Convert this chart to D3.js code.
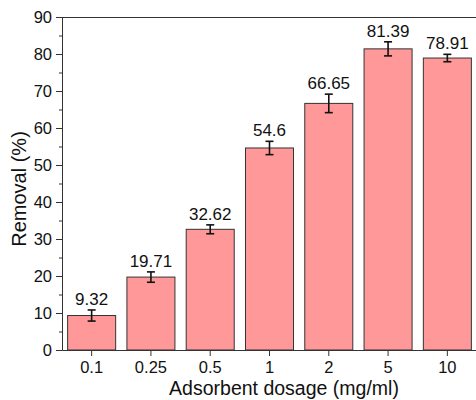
<!DOCTYPE html>
<html><head><meta charset="utf-8">
<script src="https://cdn.jsdelivr.net/npm/d3@7/dist/d3.min.js"></script>
<style>body{margin:0;background:#fff;}svg{display:block;font-family:"Liberation Sans",Arial,sans-serif;}</style>
</head><body>
<script>
const categories = ["0.1","0.25","0.5","1","2","5","10"];
const removal = [9.32, 19.71, 32.62, 54.6, 66.65, 81.39, 78.91];
const errors = [1.5, 1.4, 1.2, 1.8, 2.5, 1.9, 1.0];
const valueLabels = ["9.32","19.71","32.62","54.6","66.65","81.39","78.91"];
const yTicks = [0,10,20,30,40,50,60,70,80,90];
const yMinorTicks = [5,15,25,35,45,55,65,75,85];

const W = 476, H = 400;
const mLeft = 62, mRight = 477, mTop = 17, mBottom = 350;
const svg = d3.select("body").append("svg").attr("width", W).attr("height", H);

const x = d3.scaleBand().domain(categories).range([mLeft, mRight]).paddingInner(0.19).paddingOuter(0.095);
const y = d3.scaleLinear().domain([0, 90]).range([mBottom, mTop]);

// bars
svg.selectAll("rect.bar").data(removal).join("rect")
  .attr("class","bar")
  .attr("x", (d,i) => x(categories[i]))
  .attr("y", d => y(d))
  .attr("width", x.bandwidth())
  .attr("height", d => y(0) - y(d))
  .attr("fill", "#ff9999")
  .attr("stroke", "#333")
  .attr("stroke-width", 1);

// error bars
const eg = svg.append("g").attr("stroke","#111").attr("stroke-width",1.6);
removal.forEach((v,i) => {
  const cx = x(categories[i]) + x.bandwidth()/2;
  const y1 = y(v + errors[i]), y2 = y(v - errors[i]);
  eg.append("line").attr("x1",cx).attr("x2",cx).attr("y1",y1).attr("y2",y2);
  eg.append("line").attr("x1",cx-4).attr("x2",cx+4).attr("y1",y1).attr("y2",y1);
  eg.append("line").attr("x1",cx-4).attr("x2",cx+4).attr("y1",y2).attr("y2",y2);
});

// value labels
svg.selectAll("text.val").data(removal).join("text")
  .attr("class","val")
  .attr("x", (d,i) => x(categories[i]) + x.bandwidth()/2)
  .attr("y", (d,i) => y(d + errors[i]) - 5)
  .attr("text-anchor","middle")
  .attr("font-size", 17)
  .attr("fill","#111")
  .text((d,i) => valueLabels[i]);

// frame top
svg.append("line").attr("x1",mLeft).attr("x2",W).attr("y1",mTop+0.5).attr("y2",mTop+0.5).attr("stroke","#333").attr("stroke-width",1);

// y axis
const yAxis = svg.append("g").attr("transform",`translate(${mLeft},0)`)
  .call(d3.axisLeft(y).tickValues(yTicks).tickSize(6).tickPadding(4).tickFormat(d3.format("d")));
yAxis.select(".domain").attr("stroke","#333");
yAxis.selectAll(".tick line").attr("stroke","#333");
yAxis.selectAll("text").attr("font-size",16.5).attr("fill","#111").attr("font-family","Liberation Sans, Arial, sans-serif");
svg.append("g").attr("transform",`translate(${mLeft},0)`)
  .call(d3.axisLeft(y).tickValues(yMinorTicks).tickSize(3).tickFormat(""))
  .call(g => g.select(".domain").remove())
  .selectAll("line").attr("stroke","#333");

// x axis
const xAxis = svg.append("g").attr("transform",`translate(0,${mBottom})`)
  .call(d3.axisBottom(x).tickSize(6).tickPadding(5).tickSizeOuter(0));
xAxis.select(".domain").attr("stroke","#333");
xAxis.selectAll(".tick line").attr("stroke","#333");
xAxis.selectAll("text").attr("font-size",16.5).attr("fill","#111").attr("font-family","Liberation Sans, Arial, sans-serif");

// titles
svg.append("text").attr("x",284).attr("y",395).attr("text-anchor","middle")
  .attr("font-size",19.5).attr("fill","#111").text("Adsorbent dosage (mg/ml)");
svg.append("text").attr("transform","translate(26,189) rotate(-90)").attr("text-anchor","middle")
  .attr("font-size",20).attr("fill","#111").text("Removal (%)");
</script>
</body></html>
